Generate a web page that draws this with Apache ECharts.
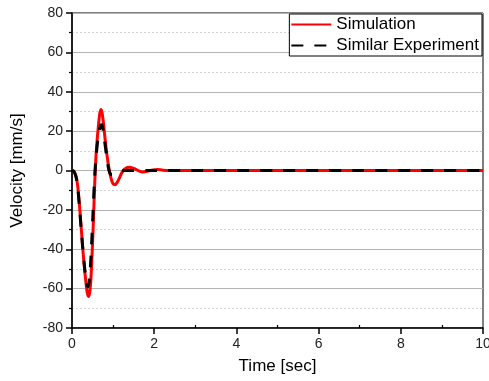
<!DOCTYPE html>
<html>
<head>
<meta charset="utf-8">
<script src="https://cdn.jsdelivr.net/npm/echarts@6/dist/echarts.min.js"></script>
<style>
html,body{margin:0;padding:0;background:#fff;}
#chart{width:489px;height:381px;}
</style>
</head>
<body>
<div id="chart"></div>
<script>
// Simulation (red solid)
var simTime = [0, 0.05, 0.1, 0.14, 0.18, 0.22, 0.26, 0.3, 0.34, 0.37, 0.4, 0.43, 0.46, 0.49, 0.52, 0.55, 0.58, 0.61, 0.64, 0.67, 0.7, 0.73, 0.76, 0.8, 0.85, 0.9, 0.95, 1.0, 1.05, 1.1, 1.16, 1.22, 1.3, 1.4, 1.5, 1.6, 1.72, 1.85, 1.97, 2.08, 2.2, 2.35, 3, 4, 5, 6, 7, 8, 9, 10];
var simVel  = [0, -0.5, -3, -8, -17, -28, -39, -49, -57, -62, -64, -62, -55, -42, -26, -8, 6, 15, 22, 28, 31, 29.5, 25, 17, 8, 1, -4, -6.8, -7.2, -6, -3.5, -0.8, 1, 1.6, 1, 0.1, -0.7, -0.3, 0.3, 0.5, 0.2, 0, 0, 0, 0, 0, 0, 0, 0, 0];
// Similar Experiment (black dashed)
var expTime = [0, 0.05, 0.1, 0.14, 0.18, 0.22, 0.26, 0.3, 0.34, 0.37, 0.39, 0.42, 0.45, 0.48, 0.51, 0.54, 0.57, 0.6, 0.63, 0.66, 0.7, 0.73, 0.76, 0.8, 0.85, 0.9, 0.95, 1.0, 1.07, 1.15, 1.3, 2, 3, 4, 5, 6, 7, 8, 9, 10];
var expVel  = [0, -0.6, -3.5, -9, -18, -29, -39, -48, -55, -58.5, -59, -56, -48, -36, -22, -8, 3, 10, 16, 20, 23, 23.2, 20, 14, 6, 0, -2, -2, -1, -0.3, 0, 0, 0, 0, 0, 0, 0, 0, 0, 0];

var seriesNames = ['Simulation', 'Similar Experiment'];
var xTitle = 'Time [sec]';
var yTitle = 'Velocity [mm/s]';

function pairs(t, v) { return t.map(function (x, i) { return [x, v[i]]; }); }

var FONT = 'Liberation Sans, Arial, sans-serif';
var chart = echarts.init(document.getElementById('chart'), null, {renderer: 'canvas'});
chart.setOption({
  animation: false,
  backgroundColor: '#fff',
  grid: {left: 72, right: 6, top: 13, bottom: 53, show: true, borderColor: '#000', borderWidth: 1, containLabel: false, outerBoundsMode: 'none'},
  legend: {
    orient: 'vertical', right: 7, top: 14,
    backgroundColor: '#fff', borderColor: '#000', borderWidth: 1,
    padding: [1, 3, 1, 1], itemGap: 2, itemWidth: 40, itemHeight: 14,
    itemStyle: {opacity: 0},
    textStyle: {fontFamily: FONT, fontSize: 17, color: '#000', lineHeight: 19},
    data: seriesNames
  },
  xAxis: {
    type: 'value', min: 0, max: 10, interval: 2,
    name: xTitle, nameLocation: 'middle', nameGap: 30,
    nameTextStyle: {fontFamily: FONT, fontSize: 17, color: '#000'},
    axisLine: {show: true, onZero: false, lineStyle: {color: '#000', width: 1.5}},
    axisTick: {show: true, length: 6, lineStyle: {color: '#000', width: 1.5}},
    minorTick: {show: true, splitNumber: 2, length: -3, lineStyle: {color: '#000', width: 1.2}},
    axisLabel: {fontFamily: FONT, fontSize: 14, color: '#222', margin: 9, alignMaxLabel: 'center', alignMinLabel: 'center', hideOverlap: false},
    splitLine: {show: false}
  },
  yAxis: {
    type: 'value', min: -80, max: 80, interval: 20,
    name: yTitle, nameLocation: 'middle', nameGap: 46,
    nameTextStyle: {fontFamily: FONT, fontSize: 17, color: '#000'},
    axisLine: {show: true, onZero: false, lineStyle: {color: '#000', width: 1.5}},
    axisTick: {show: true, length: 6, lineStyle: {color: '#000', width: 1.5}},
    minorTick: {show: true, splitNumber: 2, length: 3, lineStyle: {color: '#000', width: 1.2}},
    axisLabel: {fontFamily: FONT, fontSize: 14, color: '#222', margin: 9},
    splitLine: {show: true, lineStyle: {color: '#b4b4b4', width: 1}},
    minorSplitLine: {show: true, lineStyle: {color: '#d4d4d4', width: 1, type: [2, 2]}}
  },
  series: [
    {
      name: seriesNames[0], type: 'line', data: pairs(simTime, simVel),
      smooth: 0.3, symbol: 'none', showSymbol: false, z: 2,
      lineStyle: {color: '#ff0000', width: 3},
      itemStyle: {color: '#ff0000'}
    },
    {
      name: seriesNames[1], type: 'line', data: pairs(expTime, expVel),
      smooth: 0.3, symbol: 'none', showSymbol: false, z: 3,
      lineStyle: {color: '#000', width: 3, type: [12, 11]},
      itemStyle: {color: '#000'}
    }
  ]
});
</script>
</body>
</html>
